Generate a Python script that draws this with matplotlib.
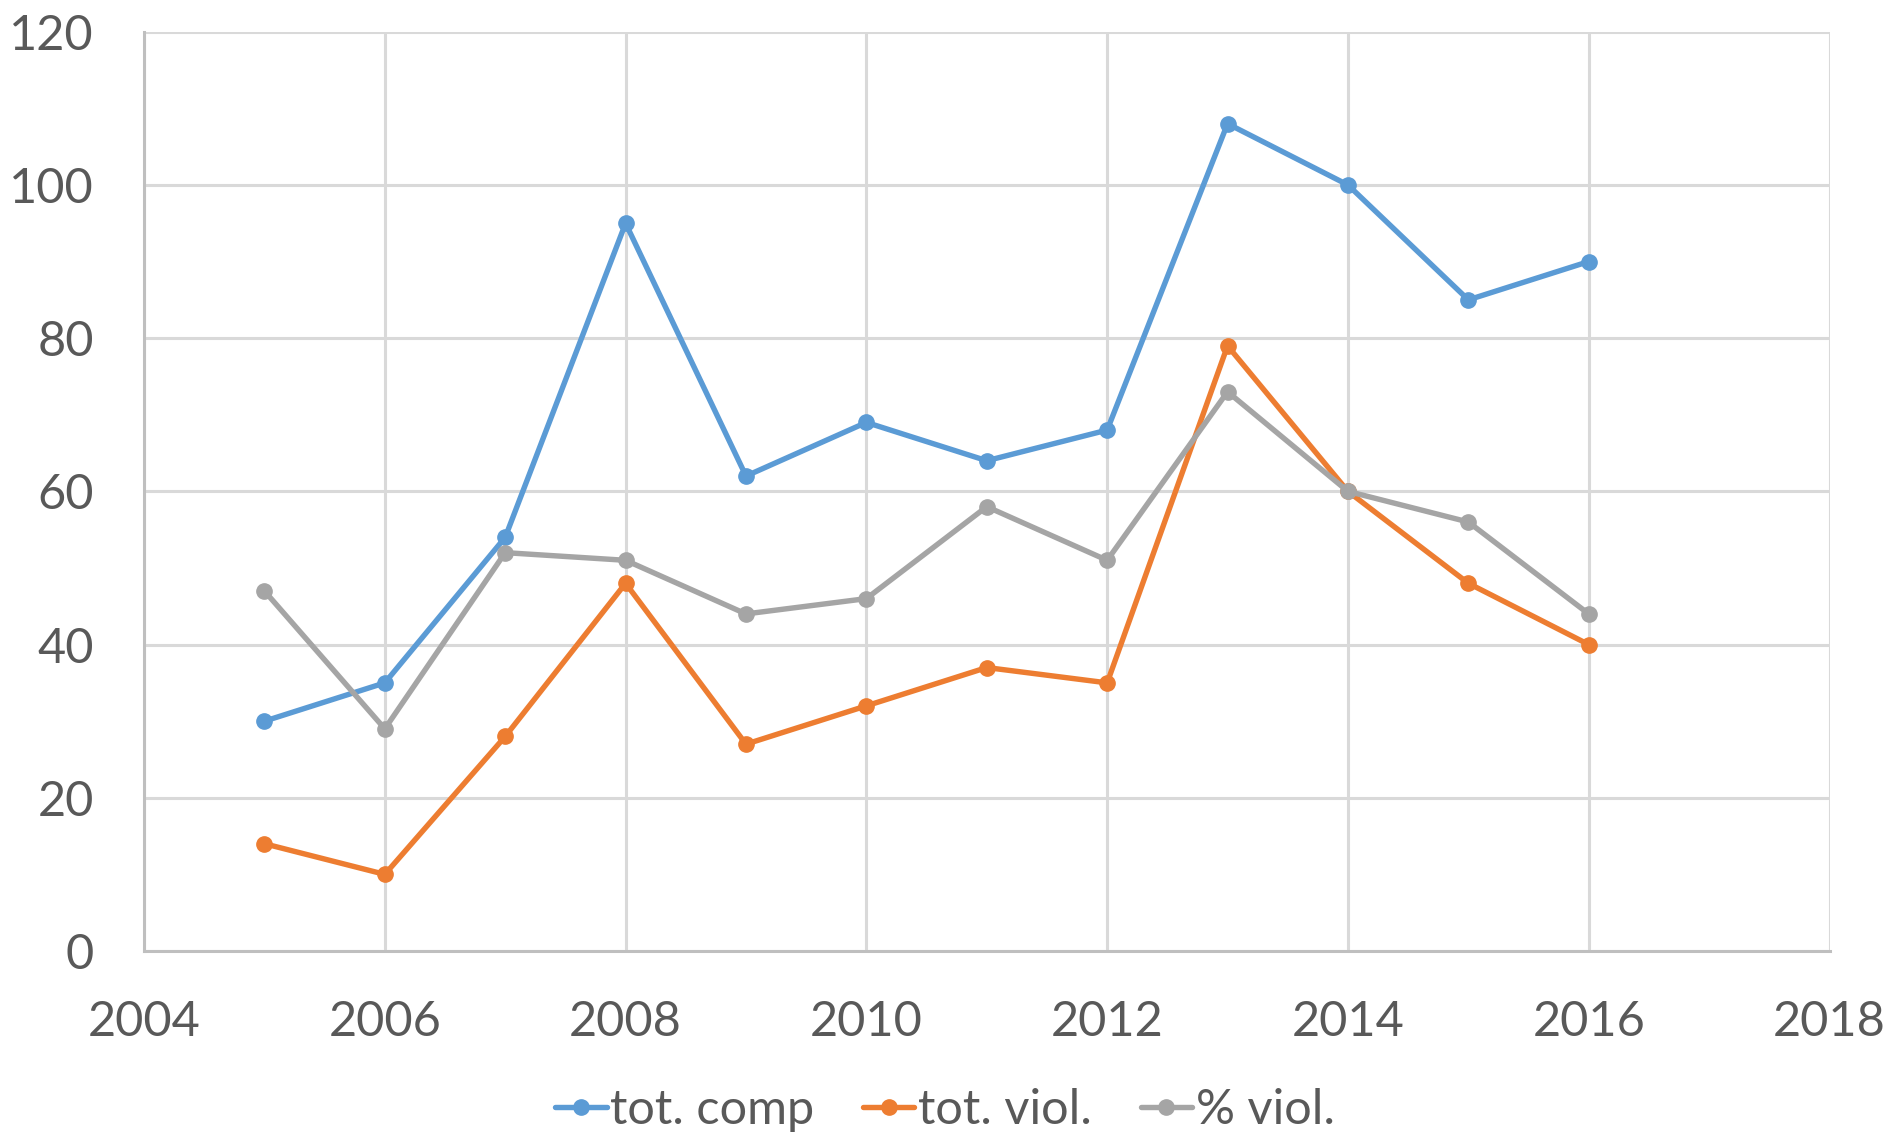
import matplotlib.pyplot as plt

plt.rcParams["font.family"] = ["Lato", "DejaVu Sans"]

years = [2005, 2006, 2007, 2008, 2009, 2010, 2011, 2012, 2013, 2014, 2015, 2016]
tot_comp = [30, 35, 54, 95, 62, 69, 64, 68, 108, 100, 85, 90]
tot_viol = [14, 10, 28, 48, 27, 32, 37, 35, 79, 60, 48, 40]
pct_viol = [47, 29, 52, 51, 44, 46, 58, 51, 73, 60, 56, 44]

series = [
    ("tot. comp", tot_comp, "#5B9BD5"),
    ("tot. viol.", tot_viol, "#ED7D31"),
    ("% viol.", pct_viol, "#A5A5A5"),
]

text_color = "#595959"
fs = 35

fig = plt.figure(figsize=(18.9, 11.34), dpi=100)
ax = fig.add_axes([0.0762, 0.1614, 0.968 - 0.0762, 0.972 - 0.1614])

for name, vals, col in series:
    ax.plot(years, vals, color=col, lw=3.9, marker="o", ms=11, label=name,
            solid_capstyle="round", zorder=3)

ax.set_xlim(2004, 2018)
ax.set_ylim(0, 120)
ax.set_xticks(range(2004, 2019, 2))
ax.set_yticks(range(0, 121, 20))
ax.grid(True, color="#D9D9D9", lw=2.2, zorder=0)
ax.set_axisbelow(True)

for side in ["top", "right"]:
    ax.spines[side].set_visible(False)
for side in ["left", "bottom"]:
    ax.spines[side].set_color("#BFBFBF")
    ax.spines[side].set_linewidth(2.2)

ax.tick_params(axis="both", length=0, labelsize=fs, colors=text_color)
ax.tick_params(axis="x", pad=35)
ax.tick_params(axis="y", pad=36)

leg = fig.legend(loc="center", bbox_to_anchor=(0.5, 1 - 1110 / 1134), ncol=3,
                 frameon=False, fontsize=fs, handlelength=1.05, handletextpad=0.08,
                 columnspacing=1.0, labelcolor=text_color)

fig.savefig("out.png", dpi=100)
